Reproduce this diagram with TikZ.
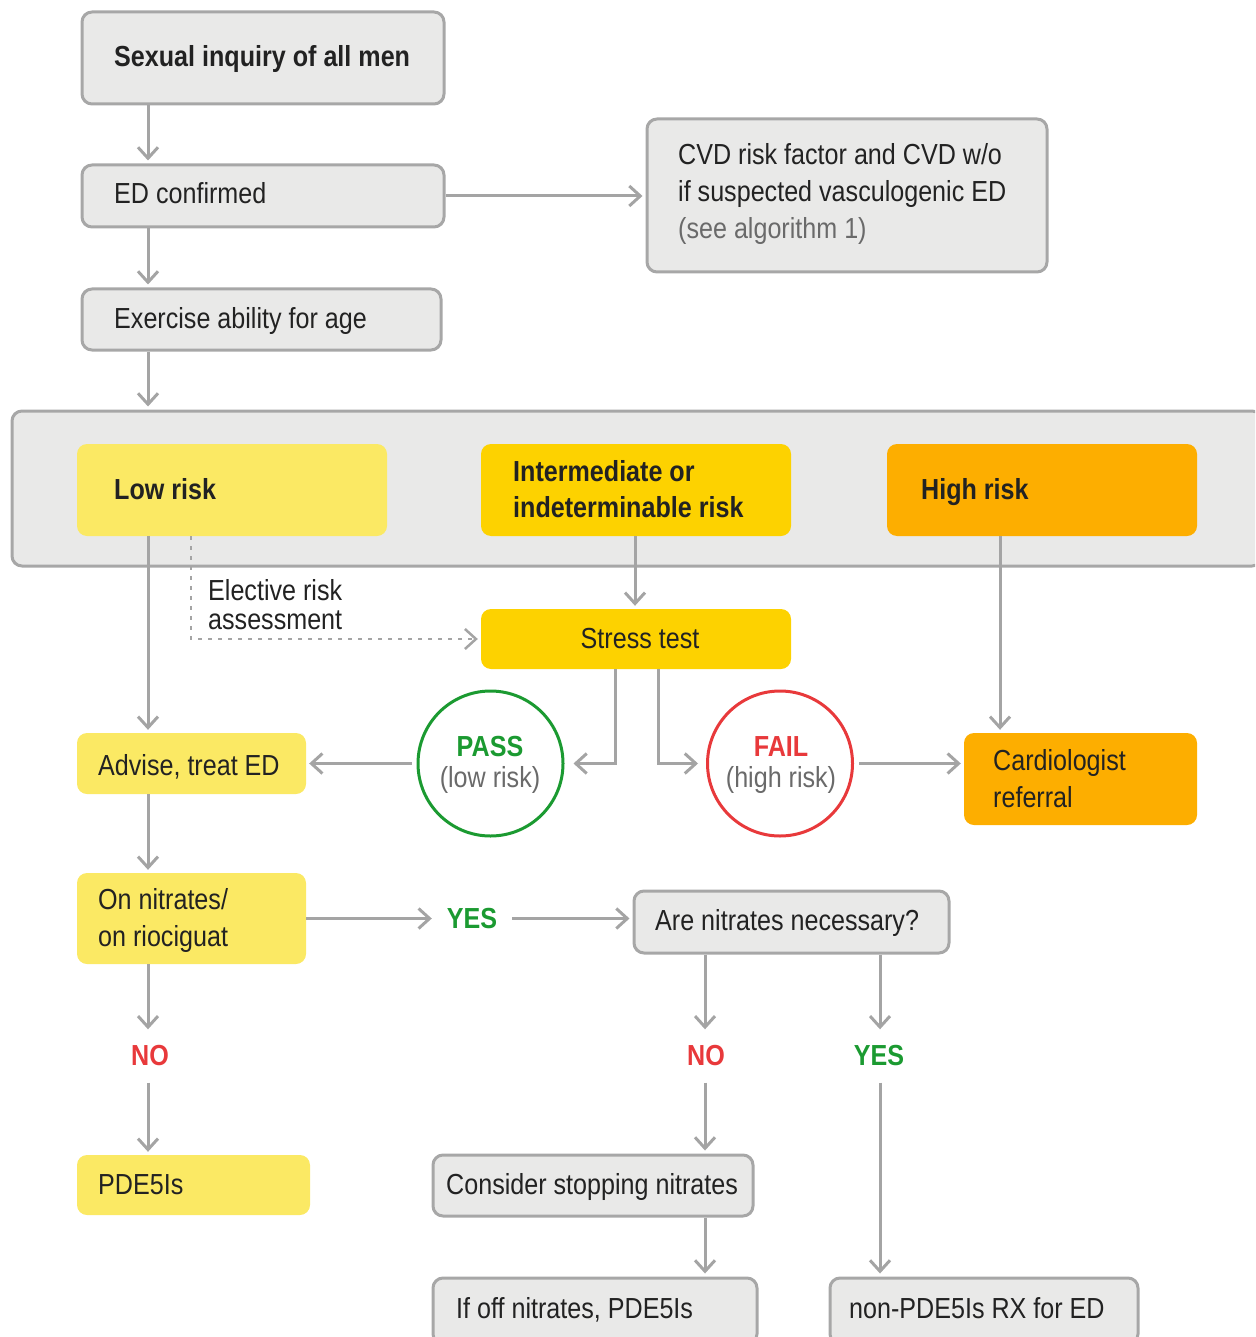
\documentclass[tikz,border=0pt]{standalone}
\usepackage{fontspec}
\setmainfont{Liberation Sans}[FakeStretch=0.866]
\usetikzlibrary{arrows.meta}
\definecolor{boxgray}{HTML}{E9E9E8}
\definecolor{edgegray}{HTML}{A7A7A7}
\definecolor{linegray}{HTML}{A4A4A4}
\definecolor{ylight}{HTML}{FBE964}
\definecolor{ymid}{HTML}{FDD200}
\definecolor{yorange}{HTML}{FDAE00}
\definecolor{okgreen}{HTML}{1B9A31}
\definecolor{badred}{HTML}{E8393B}
\definecolor{txtdark}{HTML}{222222}
\definecolor{txtgray}{HTML}{6A6A6A}
\begin{document}
\begin{tikzpicture}[x=1pt,y=-1pt,
 graybox/.style={draw=edgegray, line width=3pt, fill=boxgray, rounded corners=10pt, inner sep=0pt},
 colbox/.style={fill=#1, rounded corners=10pt, inner sep=0pt},
 txt/.style={font=\fontsize{29}{37}\selectfont, text=txtdark, inner sep=0pt, anchor=base west},
 btxt/.style={txt, font=\fontsize{29}{37}\selectfont\bfseries},
 ctxt/.style={txt, anchor=base},
 arr/.style={draw=linegray, line width=3pt, -{Straight Barb[length=11pt,width=20pt]}, shorten >=3pt},
 arrz/.style={arr, shorten >=0pt},
 ring/.style={circle, draw=#1, line width=3pt, minimum size=145pt, inner sep=0pt, fill=white},
 lbl/.style={font=\fontsize{29}{37}\selectfont\bfseries, inner sep=0pt, minimum height=53pt, minimum width=80pt}
]
\useasboundingbox (0,0) rectangle (1255,1337);
\clip (0,0) rectangle (1255,1337);

% column coordinates
\coordinate (cA) at (148,0);
\coordinate (cB) at (191,0);
\coordinate (cS) at (635,0);
\coordinate (cC) at (1000,0);
\coordinate (cD) at (615,0);
\coordinate (cE) at (658,0);
\coordinate (cF) at (705,0);
\coordinate (cG) at (880,0);

% top boxes
\node[graybox, minimum width=362pt, minimum height=92pt] (s1) at (263,58) {};
\node[btxt] (s1t) at (114,67) {Sexual inquiry of all men};
\node[graybox, minimum width=362pt, minimum height=62pt] (ed) at (263,196) {};
\node[txt] (edt) at (114,204) {ED confirmed};
\node[graybox, minimum width=359pt, minimum height=61pt] (ex) at (261.5,319.5) {};
\node[txt] (ext) at (114,328) {Exercise ability for age};
\node[graybox, minimum width=400pt, minimum height=153pt] (cvd) at (847,195.5) {};
\node[txt] (cvd1) at (678,165) {CVD risk factor and CVD w/o};
\node[txt] (cvd2) at (678,202) {if suspected vasculogenic ED};
\node[txt, text=txtgray] (cvd3) at (678,239) {(see algorithm 1)};

% risk band
\node[graybox, minimum width=1250pt, minimum height=155pt] (band) at (637,488.5) {};
\node[colbox=ylight, minimum width=310pt, minimum height=92pt] (low) at (232,490) {};
\node[btxt] (lowt) at (114,499) {Low risk};
\node[colbox=ymid, minimum width=310pt, minimum height=92pt] (inter) at (636,490) {};
\node[btxt] (inter1) at (513,481) {Intermediate or};
\node[btxt] (inter2) at (513,517) {indeterminable risk};
\node[colbox=yorange, minimum width=310pt, minimum height=92pt] (high) at (1042,490) {};
\node[btxt] (hight) at (921,499) {High risk};

% stress test and outcomes
\node[colbox=ymid, minimum width=310pt, minimum height=60pt] (stress) at (636,639) {};
\node[ctxt] (stresst) at (640,648) {Stress test};
\node[txt] (el1) at (208,600) {Elective risk};
\node[txt] (el2) at (208,629) {assessment};

\node[ring=okgreen] (pass) at (490.5,763.5) {};
\node[ctxt, text=okgreen, font=\fontsize{29}{37}\selectfont\bfseries] (pass1) at (490,756) {PASS};
\node[ctxt, text=txtgray] (pass2) at (490,787) {(low risk)};
\node[ring=badred] (fail) at (780,763.5) {};
\node[ctxt, text=badred, font=\fontsize{29}{37}\selectfont\bfseries] (fail1) at (781,756) {FAIL};
\node[ctxt, text=txtgray] (fail2) at (781,787) {(high risk)};

\node[colbox=ylight, minimum width=229pt, minimum height=61pt] (advise) at (191.5,763.5) {};
\node[txt] (adviset) at (98,775) {Advise, treat ED};
\node[colbox=yorange, minimum width=233pt, minimum height=92pt] (cardio) at (1080.5,779) {};
\node[txt] (cardio1) at (993,770) {Cardiologist};
\node[txt] (cardio2) at (993,807) {referral};

% nitrates
\node[colbox=ylight, minimum width=229pt, minimum height=91pt] (onnit) at (191.5,918.5) {};
\node[txt] (onnit1) at (98,909) {On nitrates/};
\node[txt] (onnit2) at (98,946) {on riociguat};
\node[lbl, text=okgreen] (yes1) at (472,918.5) {YES};
\node[graybox, minimum width=315pt, minimum height=62pt] (arenit) at (791.5,922) {};
\node[txt] (arenitt) at (655,930) {Are nitrates necessary?};

\node[lbl, text=badred] (no1) at (150,1056) {NO};
\node[lbl, text=badred] (no2) at (706,1056) {NO};
\node[lbl, text=okgreen] (yes2) at (879,1056) {YES};

\node[colbox=ylight, minimum width=233pt, minimum height=60pt] (pde) at (193.5,1185) {};
\node[txt] (pdet) at (98,1194) {PDE5Is};
\node[graybox, minimum width=320pt, minimum height=61pt] (consider) at (593,1185.5) {};
\node[txt] (considert) at (446,1194) {Consider stopping nitrates};
\node[graybox, minimum width=324pt, minimum height=66pt] (ifoff) at (595,1311) {};
\node[txt] (ifofft) at (456,1318) {If off nitrates, PDE5Is};
\node[graybox, minimum width=308pt, minimum height=66pt] (nonpde) at (984,1311) {};
\node[txt] (nonpdet) at (849,1318) {non-PDE5Is RX for ED};

% connectors
\draw[arr] (s1.south -| cA) -- (ed.north -| cA);
\draw[arr] (ed.south -| cA) -- (ex.north -| cA);
\draw[arr] (ed.east) -- (cvd.west |- ed.east);
\draw[arr] (ex.south -| cA) -- (band.north -| cA);
\draw[arr] (low.south -| cA) -- (advise.north -| cA);
\draw[arr, dash pattern=on 4pt off 6pt, line width=2.5pt] (low.south -| cB) |- (stress.west);
\draw[arr] (inter.south -| cS) -- (stress.north -| cS);
\draw[arr] (high.south -| cC) -- (cardio.north -| cC);
\draw[arr, shorten >=9pt] (stress.south -| cD) |- (pass.east);
\draw[arr, shorten >=8pt] (stress.south -| cE) |- (fail.west);
\draw[arr, shorten <=5pt] (pass.west) -- (advise.east |- pass.west);
\draw[arr, shorten <=5pt] (fail.east) -- (cardio.west |- fail.east);
\draw[arr] (advise.south -| cA) -- (onnit.north -| cA);
\draw[arrz] (onnit.east |- yes1.west) -- (yes1.west);
\draw[arr] (yes1.east) -- (arenit.west |- yes1.east);
\draw[arrz] (onnit.south -| cA) -- (no1.north -| cA);
\draw[arr] (no1.south -| cA) -- (pde.north -| cA);
\draw[arrz] (arenit.south -| cF) -- (no2.north -| cF);
\draw[arrz] (arenit.south -| cG) -- (yes2.north -| cG);
\draw[arr] (no2.south -| cF) -- (consider.north -| cF);
\draw[arr] (yes2.south -| cG) -- (nonpde.north -| cG);
\draw[arr] (consider.south -| cF) -- (ifoff.north -| cF);
\end{tikzpicture}
\end{document}
